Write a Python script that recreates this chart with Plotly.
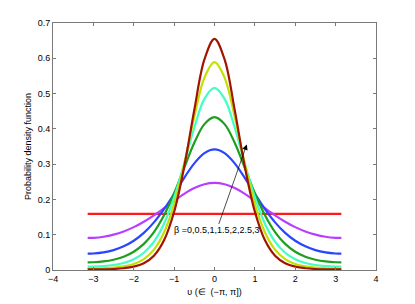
import plotly.graph_objects as go

x = [-3.1416, -3.0, -2.75, -2.5, -2.25, -2.0, -1.75, -1.5, -1.25, -1.0, -0.75, -0.5, -0.25, 0.0,
     0.25, 0.5, 0.75, 1.0, 1.25, 1.5, 1.75, 2.0, 2.25, 2.5, 2.75, 3.0, 3.1416]

half_b0 = [0.1592] * 14
half_b05 = [0.0908, 0.0912, 0.0943, 0.1003, 0.1093, 0.1215, 0.1369, 0.1550, 0.1752, 0.1961, 0.2158, 0.2321, 0.2429, 0.2467]
half_b1 = [0.0462, 0.0467, 0.0499, 0.0564, 0.0671, 0.0829, 0.1052, 0.1349, 0.1723, 0.2158, 0.2613, 0.3023, 0.3313, 0.3417]
half_b15 = [0.0216, 0.0219, 0.0242, 0.0291, 0.0377, 0.0518, 0.0740, 0.1075, 0.1551, 0.2174, 0.2897, 0.3605, 0.4134, 0.4332]
half_b2 = [0.0094, 0.0096, 0.0110, 0.0141, 0.0199, 0.0304, 0.0489, 0.0804, 0.1312, 0.2057, 0.3017, 0.4038, 0.4848, 0.5159]
half_b25 = [0.0040, 0.0041, 0.0048, 0.0065, 0.0101, 0.0171, 0.0310, 0.0577, 0.1064, 0.1868, 0.3014, 0.4340, 0.5453, 0.5894]
half_b3 = [0.0016, 0.0017, 0.0020, 0.0029, 0.0050, 0.0094, 0.0191, 0.0403, 0.0840, 0.1649, 0.2929, 0.4537, 0.5967, 0.6550]

y_b0 = half_b0 + half_b0[-2::-1]
y_b05 = half_b05 + half_b05[-2::-1]
y_b1 = half_b1 + half_b1[-2::-1]
y_b15 = half_b15 + half_b15[-2::-1]
y_b2 = half_b2 + half_b2[-2::-1]
y_b25 = half_b25 + half_b25[-2::-1]
y_b3 = half_b3 + half_b3[-2::-1]

series = [y_b0, y_b05, y_b1, y_b15, y_b2, y_b25, y_b3]
colors = ["#ff1a1a", "#b83dff", "#2a45ff", "#1e9e1e", "#40ffc4", "#c2e000", "#a01400"]

x_ticks = [-4, -3, -2, -1, 0, 1, 2, 3, 4]
y_ticks = [0, 0.1, 0.2, 0.3, 0.4, 0.5, 0.6, 0.7]
y_tick_text = ["0", "0.1", "0.2", "0.3", "0.4", "0.5", "0.6", "0.7"]

FONT = "Liberation Sans, Arial"

fig = go.Figure()
for ys, c in zip(series, colors):
    fig.add_trace(go.Scatter(x=x, y=ys, mode="lines",
                             line=dict(color=c, width=2.2, shape="spline", smoothing=1.0),
                             showlegend=False, hoverinfo="skip"))

fig.add_annotation(x=0.8, y=0.356, ax=0.05, ay=0.112, axref="x", ayref="y",
                   xref="x", yref="y", text="β =0,0.5,1,1.5,2,2.5,3",
                   showarrow=True, arrowhead=2, arrowsize=1.6, arrowwidth=0.7,
                   arrowcolor="black", standoff=0, startstandoff=0,
                   font=dict(family=FONT, size=9, color="black"))

axis_common = dict(showline=True, mirror="ticks", linecolor="#7a7a7a", linewidth=1,
                   ticks="inside", ticklen=3, tickcolor="#7a7a7a", showgrid=False,
                   zeroline=False, automargin=False,
                   tickfont=dict(family=FONT, size=9, color="black"))

fig.update_layout(
    width=407, height=296,
    margin=dict(l=45, r=39, t=15, b=34),
    plot_bgcolor="white", paper_bgcolor="white",
    xaxis=dict(range=[-4, 4], tickvals=x_ticks,
               ticktext=["\u22124", "\u22123", "\u22122", "\u22121", "0", "1", "2", "3", "4"],
               title=dict(text="\u03c5 (\u2208  (\u2212\u03c0, \u03c0])", standoff=5,
                          font=dict(family=FONT, size=9, color="black")),
               **axis_common),
    yaxis=dict(range=[0, 0.7], tickvals=y_ticks, ticktext=y_tick_text,
               title=dict(text="Probability density function", standoff=4,
                          font=dict(family=FONT, size=9, color="black")),
               **axis_common),
)

fig.write_html("out.html")
